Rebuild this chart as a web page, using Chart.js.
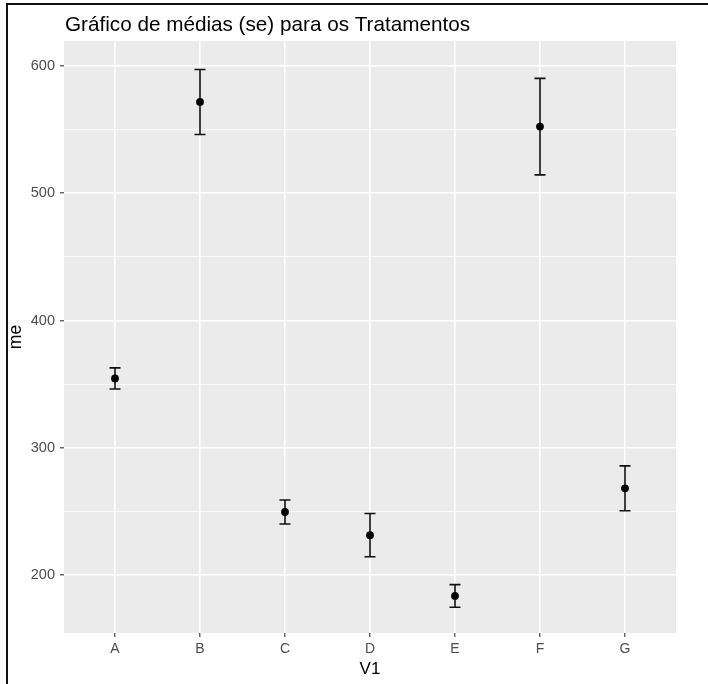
<!DOCTYPE html>
<html>
<head>
<meta charset="utf-8">
<script src="https://cdn.jsdelivr.net/npm/chart.js@4.4.0/dist/chart.umd.min.js"></script>
<style>
html, body { margin: 0; padding: 0; background: #fff; }
#wrap { width: 708px; height: 684px; }
</style>
</head>
<body>
<div id="wrap"><canvas id="myChart" width="708" height="684"></canvas></div>
<script>
// data
var categories = ['A', 'B', 'C', 'D', 'E', 'F', 'G'];
var means = [354.5, 571.5, 249.7, 231.5, 183.8, 552.2, 268.3];
var se = [8.3, 25.5, 9.4, 17, 8.85, 37.9, 17.6];
var yMajorTicks = [200, 300, 400, 500, 600];
var yMinorTicks = [250, 350, 450, 550];

var chartTitle = 'Gráfico de médias (se) para os Tratamentos';
var fontFamily = '"Liberation Sans", Arial, sans-serif';

function isMajor(v) {
    return yMajorTicks.indexOf(v) !== -1;
}

var panelPlugin = {
    id: 'panel',
    beforeDraw: function(chart) {
        var c = chart.ctx;
        var a = chart.chartArea;
        c.save();
        c.fillStyle = '#ffffff';
        c.fillRect(0, 0, chart.width, chart.height);
        // grey panel
        c.fillStyle = '#ebebeb';
        c.fillRect(a.left, a.top, a.right - a.left, a.bottom - a.top);
        // frame lines of the screenshot
        c.fillStyle = '#111111';
        c.fillRect(6, 3, chart.width - 6, 2);
        c.fillRect(6, 3, 2, chart.height - 3);
        // title
        c.fillStyle = '#000000';
        c.font = '20.7px ' + fontFamily;
        c.textBaseline = 'alphabetic';
        c.textAlign = 'left';
        c.fillText(chartTitle, a.left + 1, 31);
        c.restore();
    },
    beforeDatasetsDraw: function(chart) {
        var c = chart.ctx;
        var xs = chart.scales.x;
        var ys = chart.scales.y;
        c.save();
        c.strokeStyle = '#111111';
        c.lineWidth = 1.6;
        for (var i = 0; i < categories.length; i++) {
            var x = xs.getPixelForValue(i + 1);
            var yTop = ys.getPixelForValue(means[i] + se[i]);
            var yBot = ys.getPixelForValue(means[i] - se[i]);
            c.beginPath();
            c.moveTo(x, yTop);
            c.lineTo(x, yBot);
            c.moveTo(x - 5.5, yTop);
            c.lineTo(x + 5.5, yTop);
            c.moveTo(x - 5.5, yBot);
            c.lineTo(x + 5.5, yBot);
            c.stroke();
        }
        c.restore();
    }
};

var ctx = document.getElementById('myChart').getContext('2d');
var myChart = new Chart(ctx, {
    type: 'scatter',
    data: {
        datasets: [{
            data: categories.map(function(c, i) { return { x: i + 1, y: means[i] }; }),
            backgroundColor: '#000000',
            borderColor: '#000000',
            borderWidth: 0,
            pointRadius: 3.9,
            pointHoverRadius: 3.9
        }]
    },
    options: {
        responsive: false,
        animation: false,
        events: [],
        layout: {
            padding: { top: 41, right: 32, left: 0, bottom: 0 }
        },
        plugins: {
            legend: { display: false },
            tooltip: { enabled: false }
        },
        scales: {
            x: {
                type: 'linear',
                min: 0.4,
                max: 7.6,
                afterBuildTicks: function(scale) {
                    scale.ticks = categories.map(function(c, i) { return { value: i + 1 }; });
                },
                afterFit: function(scale) {
                    scale.height = 51;
                },
                ticks: {
                    callback: function(v) { return categories[v - 1]; },
                    color: '#4d4d4d',
                    font: { size: 14, family: fontFamily },
                    padding: 4,
                    maxRotation: 0,
                    autoSkip: false
                },
                grid: {
                    color: '#ffffff',
                    lineWidth: 1.6,
                    tickColor: '#333333',
                    tickWidth: 1.1,
                    tickLength: 4
                },
                border: { display: false },
                title: {
                    display: true,
                    text: 'V1',
                    color: '#000000',
                    font: { size: 17, family: fontFamily },
                    padding: { top: 0, bottom: 4 }
                }
            },
            y: {
                type: 'linear',
                min: 154.7,
                max: 619.4,
                afterBuildTicks: function(scale) {
                    scale.ticks = yMajorTicks.concat(yMinorTicks)
                        .sort(function(a, b) { return a - b; })
                        .map(function(v) { return { value: v }; });
                },
                afterFit: function(scale) {
                    scale.width = 64;
                },
                ticks: {
                    callback: function(v) { return isMajor(v) ? v : ''; },
                    color: '#4d4d4d',
                    font: { size: 14.5, family: fontFamily },
                    padding: 5
                },
                grid: {
                    color: '#ffffff',
                    lineWidth: function(c) { return isMajor(c.tick.value) ? 1.6 : 0.8; },
                    tickColor: function(c) { return isMajor(c.tick.value) ? '#333333' : 'rgba(0,0,0,0)'; },
                    tickWidth: 1.1,
                    tickLength: 4
                },
                border: { display: false },
                title: {
                    display: true,
                    text: 'me',
                    color: '#000000',
                    font: { size: 17.5, family: fontFamily },
                    padding: { top: 6, bottom: 0 }
                }
            }
        }
    },
    plugins: [panelPlugin]
});
</script>
</body>
</html>
